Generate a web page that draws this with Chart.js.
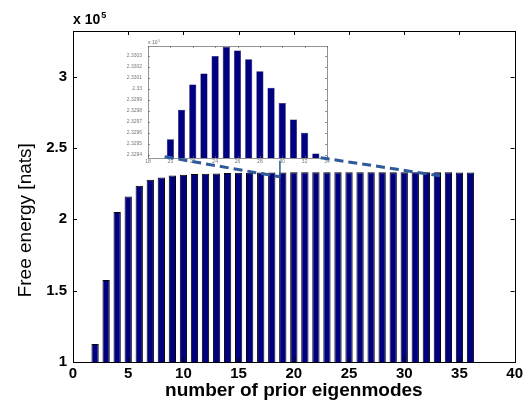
<!DOCTYPE html>
<html>
<head>
<meta charset="utf-8">
<script src="https://cdn.jsdelivr.net/npm/chart.js@4.4.1/dist/chart.umd.min.js"></script>
<style>
  html, body { margin: 0; padding: 0; background: #ffffff; }
  #wrap { position: relative; width: 526px; height: 402px; overflow: hidden; }
  #inset { position: absolute; left: 110px; top: 36px; z-index: 0; }
  #main { position: absolute; left: 0; top: 0; z-index: 1; }
</style>
</head>
<body>
<div id="wrap">
  <canvas id="inset" width="230" height="136"></canvas>
  <canvas id="main" width="526" height="402"></canvas>
</div>
<script>
// ---------------- data (free energy, units of 1e5 nats) ----------------
const earlyModes  = [2, 3, 4, 5, 6, 7, 8, 9, 10, 11, 12, 13, 14, 15, 16, 17, 18, 19];
const earlyValues = [1.126, 1.575, 2.051, 2.160, 2.235, 2.277, 2.293, 2.307, 2.312, 2.317,
                     2.320, 2.322, 2.324, 2.326, 2.327, 2.328, 2.3285, 2.3290];
const insetModes  = [20, 21, 22, 23, 24, 25, 26, 27, 28, 29, 30, 31, 32, 33];
const insetValues = [2.32954, 2.32981, 2.33004, 2.33014, 2.33030, 2.33038, 2.33035,
                     2.33027, 2.33016, 2.33001, 2.32987, 2.32972, 2.32960, 2.32941];
const lateModes   = [34, 35, 36];
const lateValues  = [2.3292, 2.3290, 2.3288];

const modes  = earlyModes.concat(insetModes, lateModes);
const energy = earlyValues.concat(insetValues, lateValues);

// zoom connector lines (main-axis coordinates)
const connectorLeftX  = [8.3, 18.74];
const connectorLeftY  = [2.439, 2.298];
const connectorRightX = [22.43, 33.24];
const connectorRightY = [2.432, 2.305];
const markerX = [18.74, 18.74];
const markerY = [2.41, 2.292];

// tick labels
const xTickValues = [0, 5, 10, 15, 20, 25, 30, 35, 40];
const yTickValues = [1, 1.5, 2, 2.5, 3];
const insetXTickValues = [18, 20, 22, 24, 26, 28, 30, 32, 34];
const insetYTickValues = [2.3294, 2.3295, 2.3296, 2.3297, 2.3298, 2.3299, 2.33, 2.3301, 2.3302, 2.3303];

const xTitle = 'number of prior eigenmodes';
const yTitle = 'Free energy [nats]';
const exponentBase = 'x 10';
const exponentPower = '5';

// ---------------- helpers ----------------
const toPoints = (xs, ys) => xs.map((x, i) => ({ x: x, y: ys[i] }));

const boxTicks = {
  id: 'boxTicks',
  afterDraw(chart, args, o) {
    const ctx = chart.ctx, a = chart.chartArea;
    const xs = chart.scales.x, ys = chart.scales.y;
    ctx.save();
    ctx.strokeStyle = o.color;
    ctx.lineWidth = o.width;
    ctx.beginPath();
    xs.ticks.forEach(t => {
      const p = Math.round(xs.getPixelForValue(t.value)) + 0.5;
      ctx.moveTo(p, a.bottom); ctx.lineTo(p, a.bottom - o.len);
      ctx.moveTo(p, a.top); ctx.lineTo(p, a.top + o.len);
    });
    ys.ticks.forEach(t => {
      const p = Math.round(ys.getPixelForValue(t.value)) + 0.5;
      ctx.moveTo(a.left, p); ctx.lineTo(a.left + o.len, p);
      ctx.moveTo(a.right, p); ctx.lineTo(a.right - o.len, p);
    });
    ctx.stroke();
    ctx.strokeRect(Math.round(a.left) + 0.5, Math.round(a.top) + 0.5,
                   Math.round(a.right - a.left), Math.round(a.bottom - a.top));
    // exponent label
    ctx.fillStyle = o.textColor;
    ctx.textBaseline = 'alphabetic';
    ctx.textAlign = 'left';
    ctx.font = o.expWeight + ' ' + o.expSize + 'px "Liberation Sans", Arial, sans-serif';
    const bx = a.left + o.expDx, by = a.top - o.expDy;
    ctx.fillText(exponentBase, bx, by);
    const w = ctx.measureText(exponentBase).width;
    ctx.font = o.expWeight + ' ' + Math.round(o.expSize * 0.62) + 'px "Liberation Sans", Arial, sans-serif';
    ctx.fillText(exponentPower, bx + w + 1, by - o.expSize * 0.45);
    ctx.restore();
  }
};

const setTicks = (vals) => (scale) => { scale.ticks = vals.map(v => ({ value: v })); };
const fmt = (v) => String(parseFloat(Number(v).toFixed(4)));

// ---------------- inset chart ----------------
new Chart(document.getElementById('inset'), {
  type: 'bar',
  data: {
    datasets: [{
      data: toPoints(insetModes, insetValues),
      backgroundColor: '#000080',
      borderColor: '#000033',
      borderWidth: 0.5,
      barPercentage: 0.64,
      categoryPercentage: 1
    }]
  },
  options: {
    responsive: false,
    animation: false,
    layout: { padding: { left: 0, right: 13, top: 10, bottom: 0 } },
    plugins: {
      legend: { display: false },
      tooltip: { enabled: false },
      boxTicks: { color: '#666', width: 0.7, len: 2, textColor: '#666',
                  expSize: 5, expWeight: 'normal', expDx: 0, expDy: 2 }
    },
    scales: {
      x: {
        type: 'linear', min: 18, max: 34, offset: false,
        afterBuildTicks: setTicks(insetXTickValues),
        ticks: { callback: fmt, font: { size: 5, family: 'Liberation Sans' }, color: '#777', padding: 1, maxRotation: 0, autoSkip: false },
        grid: { display: false, drawTicks: false, offset: false },
        border: { display: false },
        afterFit(s) { s.height = 14; }
      },
      y: {
        type: 'linear', min: 2.32937, max: 2.33039,
        afterBuildTicks: setTicks(insetYTickValues),
        ticks: { callback: fmt, font: { size: 5, family: 'Liberation Sans' }, color: '#777', padding: 6, autoSkip: false },
        grid: { display: false, drawTicks: false },
        border: { display: false },
        afterFit(s) { s.width = 38; }
      }
    }
  },
  plugins: [boxTicks]
});

// ---------------- main chart ----------------
const dashStyle = { type: 'line', borderColor: '#2d5a9a', borderWidth: 3, borderDash: [9, 5],
                    pointRadius: 0, fill: false, tension: 0 };
new Chart(document.getElementById('main'), {
  type: 'bar',
  data: {
    datasets: [
      {
        type: 'bar',
        data: toPoints(modes, energy),
        backgroundColor: '#000080',
        borderColor: '#000000',
        borderWidth: 1,
        barPercentage: 0.66,
        categoryPercentage: 1,
        order: 2
      },
      Object.assign({ data: toPoints(connectorLeftX, connectorLeftY), order: 1 }, dashStyle),
      Object.assign({ data: toPoints(connectorRightX, connectorRightY), order: 1 }, dashStyle),
      { type: 'line', data: toPoints(markerX, markerY), borderColor: '#2d5a9a', borderWidth: 1.5,
        pointRadius: 0, fill: false, order: 1 }
    ]
  },
  options: {
    responsive: false,
    animation: false,
    layout: { padding: { left: 0, right: 9, top: 31, bottom: 0 } },
    plugins: {
      legend: { display: false },
      tooltip: { enabled: false },
      boxTicks: { color: '#000', width: 1, len: 4, textColor: '#000',
                  expSize: 14, expWeight: 'bold', expDx: 0, expDy: 7 }
    },
    scales: {
      x: {
        type: 'linear', min: 0, max: 40, offset: false,
        afterBuildTicks: setTicks(xTickValues),
        ticks: { callback: fmt, font: { size: 15, weight: 'bold', family: 'Liberation Sans' }, color: '#000', padding: 3, maxRotation: 0, autoSkip: false },
        grid: { display: false, drawTicks: false, offset: false },
        border: { display: false },
        title: { display: true, text: xTitle, color: '#000',
                 font: { size: 19, weight: 'bold', family: 'Liberation Sans' }, padding: { top: 0, bottom: 0 } },
        afterFit(s) { s.height = 40; }
      },
      y: {
        type: 'linear', min: 1, max: 3.32,
        afterBuildTicks: setTicks(yTickValues),
        ticks: { callback: fmt, font: { size: 15, weight: 'bold', family: 'Liberation Sans' }, color: '#000', padding: 6, autoSkip: false },
        grid: { display: false, drawTicks: false },
        border: { display: false },
        title: { display: true, text: yTitle + '         ', color: '#000',
                 font: { size: 19, family: 'Liberation Sans' }, padding: { top: 14, bottom: 0 } },
        afterFit(s) { s.width = 73; }
      }
    }
  },
  plugins: [boxTicks]
});
</script>
</body>
</html>
